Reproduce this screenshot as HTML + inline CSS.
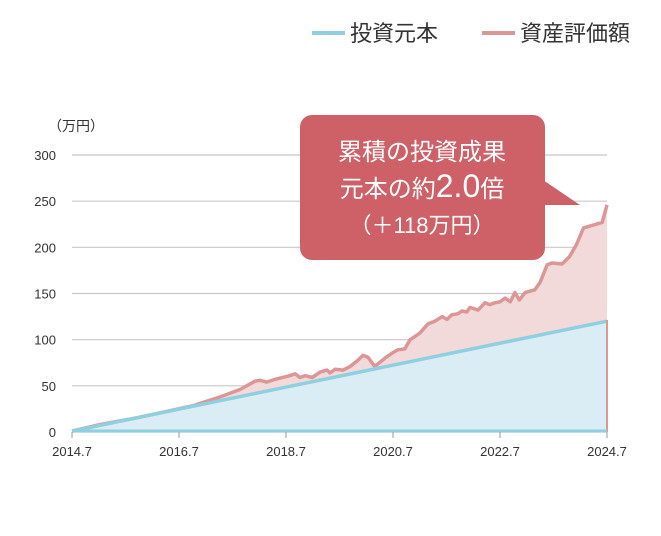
<!DOCTYPE html>
<html><head><meta charset="utf-8"><style>
body{margin:0;background:#fff;font-family:"Liberation Sans","Noto Sans CJK JP",sans-serif;}
svg text{font-family:"Liberation Sans","Noto Sans CJK JP",sans-serif;}
</style></head><body>
<svg width="661" height="531" viewBox="0 0 661 531">
<g id="grid"></g>
<path id="assetArea" fill="#f2dada"/>
<path id="principalArea" fill="#dbedf4"/>
<path id="assetLine" fill="none" stroke="#dc9696" stroke-width="3.5" stroke-linejoin="round"/>
<path id="principalLine" fill="none" stroke="#8ecfe0" stroke-width="3.5"/>
<line x1="607" x2="607" y1="320" y2="432" stroke="#dc9696" stroke-width="2"/>
<line x1="72" x2="607" y1="431" y2="431" stroke="#8ecfe0" stroke-width="3"/>
<g id="xaxis"></g>
<text x="48" y="131" font-size="14" fill="#333">（万円）</text>
<g>
<line x1="312" x2="345" y1="33" y2="33" stroke="#8ecfe0" stroke-width="4"/>
<text x="350" y="41" font-size="22" fill="#333">投資元本</text>
<line x1="482" x2="515" y1="33" y2="33" stroke="#dc9696" stroke-width="4"/>
<text x="520" y="41" font-size="22" fill="#333">資産評価額</text>
</g>
<g>
<rect x="300" y="115" width="245" height="145" rx="12" fill="#cd6167"/>
<polygon points="540,178 580,205 540,205" fill="#cd6167"/>
<text x="422" y="160" font-size="24" fill="#fff" text-anchor="middle">累積の投資成果</text>
<text x="422" y="197" font-size="24" fill="#fff" text-anchor="middle">元本の約<tspan font-size="32">2.0</tspan>倍</text>
<text x="422" y="233" font-size="22" fill="#fff" text-anchor="middle">（＋118万円）</text>
</g>
</svg>
<script>
const yTicks=[0,50,100,150,200,250,300];
const xTickLabels=["2014.7","2016.7","2018.7","2020.7","2022.7","2024.7"];
const principalYears=[0,10];
const principalValues=[1,120];
const assetYears=[0,0.52,0.9,1.27,2.3,2.39,2.77,3.14,3.42,3.51,3.64,3.79,4.07,4.17,4.26,4.36,4.49,4.64,4.77,4.82,4.92,5.07,5.2,5.35,5.44,5.53,5.66,5.85,6.0,6.09,6.22,6.32,6.5,6.65,6.78,6.92,7.01,7.1,7.21,7.29,7.38,7.44,7.59,7.72,7.81,7.91,8.0,8.1,8.19,8.28,8.36,8.47,8.65,8.75,8.88,8.97,9.16,9.3,9.43,9.56,9.91,10];
const assetValues=[1,8,12,16,29,31,38,46,55,56,54,57,61,63,59,61,59,65,67,64,68,67,71,78,83,81,71,80,86,89,90,100,107,117,120,125,122,127,128,131,130,135,132,140,138,140,141,145,141,151,143,151,154,162,181,183,182,190,203,221,227,246,240].slice(0,62);
const X0=72,X1=607,Y0=432,Y300=155;
const sx=t=>X0+(X1-X0)*t/10, sy=v=>Y0-(Y0-Y300)*v/300;
const ns="http://www.w3.org/2000/svg";
const g=document.getElementById('grid');
yTicks.forEach(v=>{const l=document.createElementNS(ns,'line');
l.setAttribute('x1',X0);l.setAttribute('x2',X1);l.setAttribute('y1',sy(v));l.setAttribute('y2',sy(v));
l.setAttribute('stroke','#c8c8c8');l.setAttribute('stroke-width','1.2');

g.appendChild(l);
const t=document.createElementNS(ns,'text');t.setAttribute('x',56);t.setAttribute('y',sy(v)+5);
t.setAttribute('text-anchor','end');t.setAttribute('font-size','13');t.setAttribute('fill','#333');t.textContent=v;

g.appendChild(t);});
const xa=document.getElementById('xaxis');
xTickLabels.forEach((s,i)=>{const x=sx(i*2);
const l=document.createElementNS(ns,'line');l.setAttribute('x1',x);l.setAttribute('x2',x);l.setAttribute('y1',432);l.setAttribute('y2',438);l.setAttribute('stroke','#999');

xa.appendChild(l);
const t=document.createElementNS(ns,'text');t.setAttribute('x',x);t.setAttribute('y',456);t.setAttribute('text-anchor','middle');t.setAttribute('font-size','13');t.setAttribute('fill','#333');t.textContent=s;

xa.appendChild(t);});
const line=(xs,vs)=>xs.map((t,i)=>(i?'L':'M')+sx(t).toFixed(1)+','+sy(vs[i]).toFixed(1)).join('');
const aL=line(assetYears,assetValues), pL=line(principalYears,principalValues);
document.getElementById('assetLine').setAttribute('d',aL);
document.getElementById('principalLine').setAttribute('d',pL);
document.getElementById('assetArea').setAttribute('d',aL+`L${sx(10)},${Y0}L${sx(0)},${Y0}Z`);
document.getElementById('principalArea').setAttribute('d',pL+`L${sx(10)},${Y0}L${sx(0)},${Y0}Z`);
</script>
</body></html>
